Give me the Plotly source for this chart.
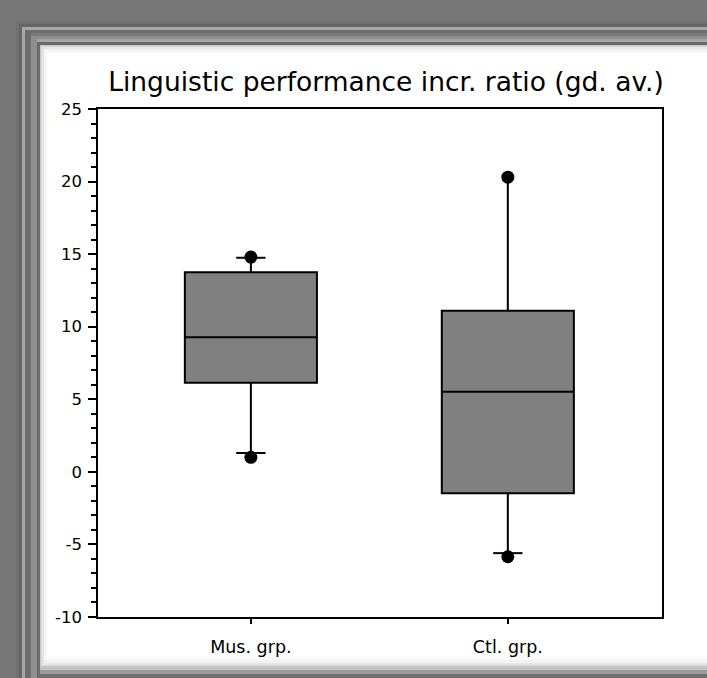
import plotly.graph_objects as go

# Group labels and box statistics
groups = ["Mus. grp.", "Ctl. grp."]
q1 = [6.14, -1.48]
median = [9.27, 5.52]
q3 = [13.75, 11.10]
whisker_low = [1.3, -5.6]
whisker_high = [14.75, 20.3]
point_low = [1.0, -5.85]
point_high = [14.8, 20.3]
cap_low = [True, True]
cap_high = [True, False]

y_ticks = [-10, -5, 0, 5, 10, 15, 20, 25]
y_tick_labels = ["-10", "-5", "0", "5", "10", "15", "20", "25"]

W, H = 707, 678
L, R, T, B = 98, 662, 109, 617  # plot area in pixels

FONT = "DejaVu Sans"

fig = go.Figure()

positions = list(range(len(groups)))
box_width = 0.514
cap_half = 0.057

for i, g in enumerate(groups):
    fig.add_trace(go.Box(
        x=[positions[i]],
        q1=[q1[i]], median=[median[i]], q3=[q3[i]],
        lowerfence=[whisker_low[i]], upperfence=[whisker_high[i]],
        width=box_width,
        whiskerwidth=0,
        fillcolor="#808080",
        line=dict(color="black", width=2),
        boxpoints=False,
        showlegend=False,
        hoverinfo="skip",
    ))

# whisker caps
cx, cy = [], []
for i in range(len(groups)):
    for val, on in ((whisker_low[i], cap_low[i]), (whisker_high[i], cap_high[i])):
        if on:
            cx += [positions[i] - cap_half, positions[i] + cap_half, None]
            cy += [val, val, None]
fig.add_trace(go.Scatter(x=cx, y=cy, mode="lines",
                         line=dict(color="black", width=2),
                         showlegend=False, hoverinfo="skip"))

# extreme points
fig.add_trace(go.Scatter(
    x=positions + positions, y=point_low + point_high, mode="markers",
    marker=dict(color="black", size=13, line=dict(width=0)),
    showlegend=False, hoverinfo="skip"))


def px(x):
    return (x - L) / (R - L)


def py(y):
    return (B - y) / (B - T)


def rect(x0, y0, x1, y1, color):
    fig.add_shape(type="rect", xref="paper", yref="paper",
                  x0=px(x0), x1=px(x1), y0=py(y1), y1=py(y0),
                  fillcolor=color, line=dict(width=0), layer="below")


# beveled frame around the white panel
rect(16, 21, W + 5, H + 5, "#707070")
rect(19, 24, W + 5, H + 5, "#656565")
rect(22, 27, W + 5, H + 5, "#a8a8a8")
rect(25, 30, W + 5, H + 5, "#6c6c6c")
rect(28, 33, W + 5, H + 5, "#7a7a7a")
rect(31, 36, W + 5, H + 5, "#8e8e8e")
rect(34, 39, W + 5, H + 5, "#a6a6a6")
rect(37, 42, W + 5, H + 5, "#6a6a6a")
# bottom edge bands
rect(40, 667, W + 5, H + 5, "#c4c4c4")
rect(38, 670, W + 5, H + 5, "#9a9a9a")
rect(36, 674, W + 5, H + 5, "#6e6e6e")
# left edge bands continuing to the bottom
rect(22, 27, 25, H + 5, "#a8a8a8")
rect(25, 30, 31, H + 5, "#6c6c6c")
rect(31, 36, 37, H + 5, "#8e8e8e")
rect(37, 42, 40, H + 5, "#6a6a6a")
# white panel with soft inner shading
rect(40, 45, W + 5, 667, "#c8c8c8")
rect(41, 46, W + 5, 666, "#d8d8d8")
rect(42, 47, W + 5, 665, "#e6e6e6")
rect(44, 49, W + 5, 663, "#f2f2f2")
rect(46, 51, W + 5, 660, "#fafafa")
rect(48, 53, W + 5, 656, "#ffffff")

fig.update_layout(
    width=W, height=H,
    margin=dict(l=L, r=W - R, t=T, b=H - B),
    paper_bgcolor="#787878",
    plot_bgcolor="rgba(0,0,0,0)",
    font=dict(family=FONT, color="black"),
    title=dict(text="Linguistic performance incr. ratio (gd. av.)",
               font=dict(family=FONT, size=26.5, color="black"),
               x=(386 / W), xanchor="center", xref="container",
               y=1 - 82 / H, yanchor="middle", yref="container"),
    xaxis=dict(
        range=[-0.595, 1.6],
        tickmode="array", tickvals=positions, ticktext=groups,
        ticks="outside", ticklen=5, tickwidth=1.5, tickcolor="black",
        ticklabelstandoff=8,
        showline=True, linecolor="black", linewidth=1.5, mirror=True,
        showgrid=False, zeroline=False,
        tickfont=dict(family=FONT, size=17.5),
    ),
    yaxis=dict(
        range=[-10, 25],
        tickmode="array", tickvals=y_ticks, ticktext=y_tick_labels,
        ticks="outside", ticklen=8, tickwidth=1.5, tickcolor="black",
        ticklabelstandoff=3,
        minor=dict(dtick=1, ticks="outside", ticklen=5, tickwidth=1.5,
                   tickcolor="black", showgrid=False),
        showline=True, linecolor="black", linewidth=1.5, mirror=True,
        showgrid=False, zeroline=False,
        tickfont=dict(family=FONT, size=16.5),
    ),
)

fig.write_html("out.html")
